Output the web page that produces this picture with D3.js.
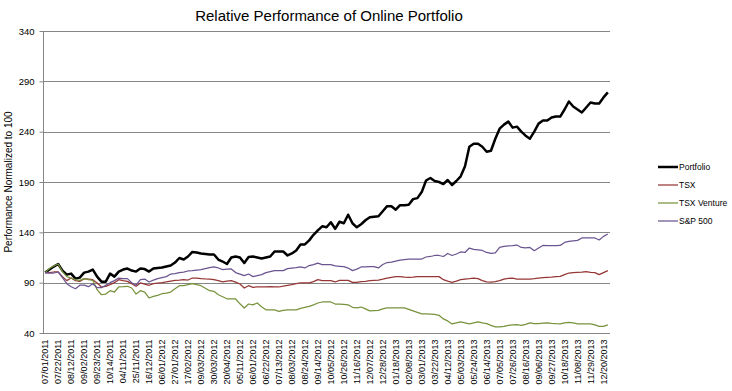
<!DOCTYPE html>
<html><head><meta charset="utf-8">
<script src="https://cdn.jsdelivr.net/npm/d3@7"></script>
<style>body{margin:0;background:#fff}svg{display:block}</style>
</head><body><svg id="c" width="732" height="391"></svg>
<script>
const tickLabels = ["07/01/2011","07/22/2011","08/12/2011","09/02/2011","09/23/2011","10/14/2011","04/11/2011","25/11/2011","16/12/2011","06/01/2012","27/01/2012","17/02/2012","09/03/2012","30/03/2012","20/04/2012","05/11/2012","06/01/2012","06/22/2012","07/13/2012","08/03/2012","08/24/2012","09/14/2012","10/05/2012","10/26/2012","11/16/2012","12/07/2012","12/28/2012","01/18/2013","02/08/2013","03/01/2013","03/22/2013","04/12/2013","05/03/2013","05/24/2013","06/14/2013","07/05/2013","07/26/2013","08/16/2013","09/06/2013","09/27/2013","10/18/2013","11/08/2013","11/29/2013","12/20/2013"];
const nWeeks = 131;
const yTicks = [40,90,140,190,240,290,340];

const portfolio = [100,103,106,108.5,102,98,99,94,95,100,101,103,96,91,91,99,96,101,103,104,102,101,104,103.5,101,104,104.5,105,106,107,110,114.5,113,116,120.5,120,119,118.5,118,118,113,111,108.5,115,116,115,109.5,115.5,116,115,114,115,116,121,121,121,117,119,122,128,128,132,137.5,142,146,145,150,143.5,150.5,149,157.5,149,145,148,152,155,155.5,156,161,166,166,162.5,167,167,167.5,173,174,180,191.5,194,191,190,188,192,187,191,195.6,205.6,225,228,228,225,220,221,233,243,247,250,244,245,240,236,233,240,248,251,251,254,255,255,262,270,265,262,259,264,269,268,268,274,279];
const tsx = [100,100,100.6,100.6,96,92,94.6,92,91.3,94,93.5,93,89.7,85.7,86.4,88,90,93,92,91.3,89,86.4,89.7,88.5,87.4,89,89.5,90,90.7,91.5,92.3,92.6,93,92.6,94.6,94.5,94,93.7,93.5,93,92,90.7,91.5,92,90.5,88.7,84.7,87,85.4,85.7,85.7,85.7,86,85.7,85.7,86.5,87.4,88,89,89.7,89.7,89.7,91,93,92,92,92,90.7,92.3,92.3,92.3,90.3,90.3,91,91.3,92,92.3,92.6,93.5,94.6,95.3,96,96,95.5,95.3,95.6,96,96,96,96,96,96,93,91.5,90.3,91.5,93,93.5,94,94.6,94,92,90.7,90.5,91,92,93.5,94.3,94.5,93.6,93.5,93.6,93.6,94,94.6,95,95.3,95.5,96,96.3,98,99.6,100,100.3,100.5,101,100.3,100,98,100,102];
const tsxVenture = [100,104,106.5,108.5,101,96,94.6,93,92.3,94,93,92.3,83,78,78.7,82,80.7,85.7,86,86.4,84.7,78.7,82,80.7,74.8,76.4,77.4,79,79.7,80.7,84,87,87,88,89,88,87,84.5,82,81.4,78,76,74,74,73.8,69,64.8,68.8,68,69.8,66,63,63,63,61.5,62.5,63,63,63,64.5,65.5,66.5,68,69.8,70.8,70.8,70.8,68.8,68.8,68.5,68,65.5,65,65.8,64,62,62.3,62.5,64,65,65,65,65,65,63.5,62,60.5,59,59,58.8,58.5,57.6,54,52,49,50,51,50,49,50,51,50,49.3,47.5,46,46.2,46.6,47.6,48,48.3,47.6,48.5,50,49.3,49.3,49.7,50,49.5,49.2,49,50,50.6,50,49,49,49,49,48,46.6,46.6,48];
const sp500 = [100,99.5,99.6,100.6,95,89,86,84,87.5,87.5,86,89,85,85,87.5,90,92,94.5,94,94,90,87.5,93,93.6,90.7,92.5,94,95,96,98.6,99,100,100.5,101.6,102,102.5,103,104,105,105.6,104.6,103,103.5,103.6,100,98.5,97,98.6,96,97,98,100,101,102,102,102,104,104.5,105,105.6,104.6,107,108,109.5,108,108,108,106.6,106.3,106,104.5,102,103.5,105.6,105.6,106,106,104.6,108,110,110.5,111.5,112.5,113,113.5,113.5,113.5,113.5,115.5,116,117,117,116,119,117,118.5,120.5,120,124.4,123,122.5,122,120,119,119.5,125,126,126.5,126.7,127.4,125,124.5,125,121.8,124.5,127,126.7,126.7,126.8,127,130,131,131.5,132,134.4,134.4,134.4,134.4,132.4,136,138.3];

const seriesNames = ["Portfolio","TSX","TSX Venture","S&P 500"];
const seriesData = [portfolio, tsx, tsxVenture, sp500];
const seriesColors = ["#000000","#953735","#77933C","#6B5591"];
const seriesWidths = [2.5,1.25,1.25,1.25];

const svg = d3.select("#c");
const pLeft = 43, pRight = 610, pTop = 31, pBottom = 333;
const font = "'Liberation Sans', Arial, sans-serif";

const x = d3.scaleBand().domain(d3.range(nWeeks)).range([pLeft, pRight]);
const y = d3.scaleLinear().domain([40,340]).range([pBottom, pTop]);

// gridlines
svg.append("g").selectAll("line").data(yTicks).join("line")
  .attr("x1", pLeft).attr("x2", pRight)
  .attr("y1", d => Math.round(y(d))+0.5).attr("y2", d => Math.round(y(d))+0.5)
  .attr("stroke", "#868686").attr("stroke-width", 1);

// y axis
const yAxis = svg.append("g").attr("transform", `translate(${pLeft+0.5},0)`)
  .call(d3.axisLeft(y).tickValues(yTicks).tickSize(4).tickPadding(5));
yAxis.select(".domain").attr("stroke", "#868686").attr("d", `M0,${pTop}V${pBottom}`);
yAxis.selectAll(".tick line").attr("stroke", "#868686");
yAxis.selectAll("text").attr("font-family", font).attr("font-size", 9.5).attr("fill", "#000");

// x labels
const xAxis = svg.append("g").attr("transform", `translate(0,${pBottom+0.5})`)
  .call(d3.axisBottom(x).tickValues(d3.range(0, nWeeks, 3).slice(0, tickLabels.length)).tickSize(0)
    .tickFormat(d => tickLabels[d/3]));
xAxis.select(".domain").remove();
xAxis.selectAll("text")
  .attr("font-family", font).attr("font-size", 9).attr("fill", "#000")
  .attr("transform", "rotate(-90)").attr("text-anchor", "end")
  .attr("x", -6).attr("y", 0).attr("dy", "0.35em");

// lines
const line = d3.line().x((d,i) => x(i) + x.bandwidth()/2).y(d => y(d)).curve(d3.curveLinear);
seriesData.forEach((s, k) => {
  svg.append("path").datum(s).attr("d", line)
    .attr("fill", "none").attr("stroke", seriesColors[k]).attr("stroke-width", seriesWidths[k])
    .attr("stroke-linejoin", "round");
});

// title
svg.append("text").attr("x", 329).attr("y", 21).attr("text-anchor", "middle")
  .attr("font-family", font).attr("font-size", 15).text("Relative Performance of Online Portfolio");

// y title
svg.append("text").attr("transform", "translate(12,182) rotate(-90)").attr("text-anchor", "middle")
  .attr("font-family", font).attr("font-size", 10).text("Performance Normalized to 100");

// legend
const leg = svg.append("g");
seriesNames.forEach((n, k) => {
  const ly = 167 + k*18;
  leg.append("line").attr("x1", 658).attr("x2", 678).attr("y1", ly).attr("y2", ly)
    .attr("stroke", seriesColors[k]).attr("stroke-width", seriesWidths[k]);
  leg.append("text").attr("x", 679).attr("y", ly).attr("dy", "0.35em")
    .attr("font-family", font).attr("font-size", 8.5).text(n);
});
</script></body></html>
